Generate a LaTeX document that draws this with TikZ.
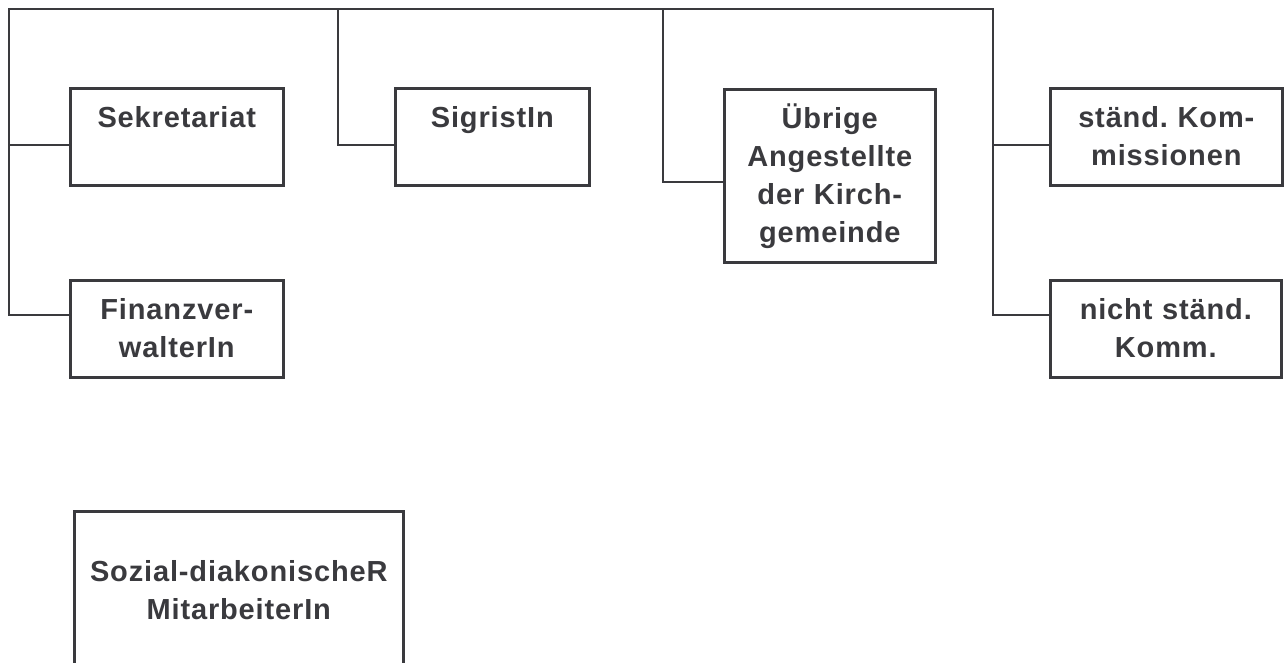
\documentclass[tikz,border=0pt]{standalone}
\usepackage{fontspec}
\setmainfont{Liberation Sans}[LetterSpace=3]
\usepackage{tikz}
\usetikzlibrary{positioning}
\definecolor{orggray}{RGB}{58,58,62}
\newcommand{\orgfont}{\fontsize{16.5pt}{21.6pt}\selectfont\bfseries\frenchspacing}

\begin{document}
\begin{tikzpicture}[
  x=0.02cm, y=-0.02cm,
  orgbox/.style={rectangle, draw=orggray, line width=1.5pt, anchor=north west,
               inner sep=0pt, align=center, font=\orgfont, text=orggray,
               text height=0.78cm},
  smallbox/.style={orgbox, minimum height=1.94cm, text depth=1.16cm},
  orgline/.style={draw=orggray, line width=1.5pt}
]
  \useasboundingbox (0,0) rectangle (1286,663);

  \node[smallbox, minimum width=4.26cm, text width=4.0cm] (sek) at (69,87) {Sekretariat};
  \node[smallbox, minimum width=4.26cm, text width=4.0cm] (fin) at (69,279) {Finanzver-\\walterIn};
  \node[smallbox, minimum width=3.88cm, text width=3.6cm] (sig) at (394,87) {SigristIn};
  \node[orgbox, minimum width=4.22cm, text width=4.0cm, minimum height=3.46cm,
        text depth=2.68cm] (ueb) at (723,88) {Übrige\\Angestellte\\der Kirch-\\gemeinde};
  \node[smallbox, minimum width=4.64cm, text width=4.4cm] (sta) at (1049,87) {ständ. Kom-\\missionen};
  \node[smallbox, minimum width=4.62cm, text width=4.4cm] (nst) at (1049,279) {nicht ständ.\\Komm.};
  \node[orgbox, minimum width=6.58cm, text width=6.4cm, text height=1.40cm,
        text depth=4.0cm] (soz) at (73,510) {Sozial-diakonischeR\\MitarbeiterIn};

  % Verbindungslinien
  \coordinate (topl) at (9,9);
  \coordinate (topr) at (993,9);
  \coordinate (jl1) at (9,145);
  \coordinate (jl2) at (9,315);
  \coordinate (tsig) at (338,9);
  \coordinate (jsig) at (338,145);
  \coordinate (tueb) at (663,9);
  \coordinate (jueb) at (663,182);
  \coordinate (jr1) at (993,145);
  \coordinate (jr2) at (993,315);

  \draw[orgline] (jl2 -| fin.west) -- (jl2) -- (topl) -- (topr) -- (jr2) -- (jr2 -| nst.west);
  \draw[orgline] (jl1) -- (jl1 -| sek.west);
  \draw[orgline] (tsig) -- (jsig) -- (jsig -| sig.west);
  \draw[orgline] (tueb) -- (jueb) -- (jueb -| ueb.west);
  \draw[orgline] (jr1) -- (jr1 -| sta.west);
\end{tikzpicture}
\end{document}
